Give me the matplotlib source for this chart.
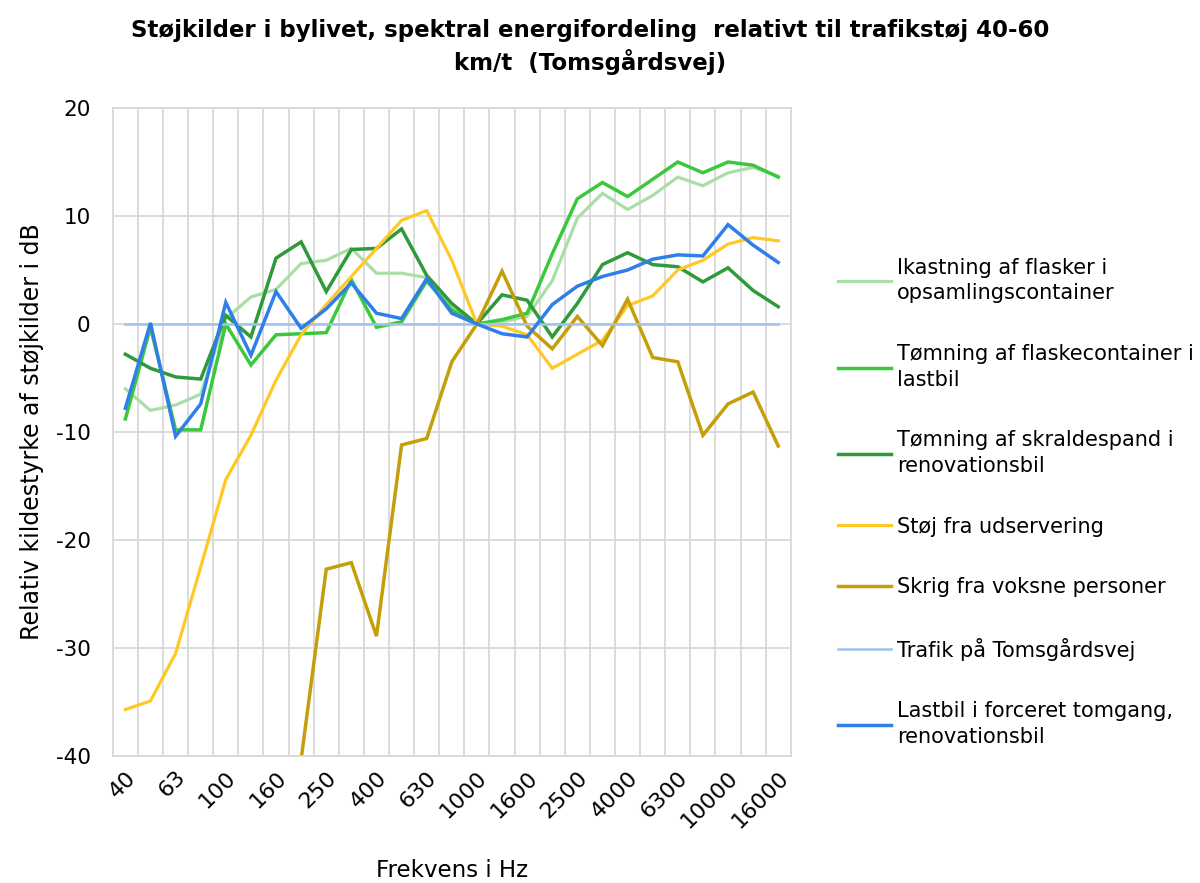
import numpy as np
import matplotlib
matplotlib.use('Agg')
import matplotlib.pyplot as plt

plt.rcParams['font.family'] = ['DejaVu Sans']
plt.rcParams['axes.unicode_minus'] = False

# 1/3-octave bands (Hz)
freqs = ['40', '50', '63', '80', '100', '125', '160', '200', '250', '315',
         '400', '500', '630', '800', '1000', '1250', '1600', '2000', '2500',
         '3150', '4000', '5000', '6300', '8000', '10000', '12500', '16000']

ikastning = [-6.0, -8.0, -7.5, -6.5, 0.5, 2.5, 3.2, 5.6, 5.9, 7.0, 4.7, 4.7, 4.3,
             1.6, 0.0, 0.2, 0.7, 4.0, 9.8, 12.1, 10.6, 11.9, 13.6, 12.8, 14.0, 14.5, 13.7]
flaskecontainer = [-8.8, -0.3, -9.8, -9.8, 0.0, -3.8, -1.0, -0.9, -0.8, 4.1, -0.3, 0.2, 4.0,
                   1.3, 0.0, 0.4, 1.0, 6.5, 11.6, 13.1, 11.8, 13.4, 15.0, 14.0, 15.0, 14.7, 13.6]
skraldespand = [-2.8, -4.1, -4.9, -5.1, 0.8, -1.2, 6.1, 7.6, 3.0, 6.9, 7.0, 8.8, 4.5,
                1.9, 0.0, 2.7, 2.2, -1.2, 1.9, 5.5, 6.6, 5.5, 5.3, 3.9, 5.2, 3.1, 1.6]
udservering = [-35.7, -34.9, -30.5, -22.5, -14.4, -10.3, -5.2, -1.0, 1.8, 4.4, 7.0, 9.6, 10.5,
               5.9, 0.0, -0.2, -1.0, -4.1, -2.8, -1.5, 1.7, 2.6, 5.0, 5.9, 7.4, 8.0, 7.7]
skrig = [np.nan, np.nan, np.nan, np.nan, np.nan, np.nan, np.nan, -40.3, -22.7, -22.1, -28.9,
         -11.2, -10.6, -3.5, 0.0, 4.9, -0.2, -2.3, 0.7, -2.0, 2.3, -3.1, -3.5, -10.3, -7.4, -6.3, -11.3]
trafik = [0.0] * 27
lastbil = [-7.8, 0.1, -10.4, -7.4, 2.0, -2.9, 3.0, -0.4, 1.4, 3.8, 1.0, 0.5, 4.2,
           1.0, 0.0, -0.9, -1.2, 1.8, 3.5, 4.4, 5.0, 6.0, 6.4, 6.3, 9.2, 7.3, 5.7]

series = [
    ('Ikastning af flasker i\nopsamlingscontainer', ikastning, '#A9DFA6', 2.3),
    ('Tømning af flaskecontainer i\nlastbil', flaskecontainer, '#3CC83C', 2.5),
    ('Tømning af skraldespand i\nrenovationsbil', skraldespand, '#2E9A3A', 2.5),
    ('Støj fra udservering', udservering, '#FFC825', 2.3),
    ('Skrig fra voksne personer', skrig, '#C59E0A', 2.5),
    ('Trafik på Tomsgårdsvej', trafik, '#9FC3EC', 1.8),
    ('Lastbil i forceret tomgang,\nrenovationsbil', lastbil, '#2F7FE8', 2.5),
]

fig = plt.figure(figsize=(12, 8.83), dpi=100)
ax = fig.add_axes([0.094, 0.1438, 0.565, 0.7339])

x = np.arange(len(freqs))
handles = []
for label, vals, color, lw in series:
    h, = ax.plot(x, vals, color=color, lw=lw, label=label, solid_joinstyle='miter')
    handles.append(h)

grid_c = '#D9D9D9'
ax.set_xlim(-0.5, len(freqs) - 0.5)
ax.set_ylim(-40, 20)
ax.set_yticks(np.arange(-40, 21, 10))
ax.set_xticks(x[::2])
ax.set_xticklabels(freqs[::2], rotation=45, ha='right', rotation_mode='anchor')
ax.set_xticks(np.arange(-0.5, len(freqs), 1.0), minor=True)
ax.grid(axis='y', color=grid_c, lw=1.3)
ax.grid(axis='x', which='minor', color=grid_c, lw=1.3)
ax.set_axisbelow(True)
for s in ax.spines.values():
    s.set_color(grid_c)
    s.set_linewidth(1.3)
ax.tick_params(axis='both', which='both', length=0)
ax.tick_params(axis='y', labelsize=15.5, pad=16)
ax.tick_params(axis='x', labelsize=16, pad=8)

ax.set_xlabel('Frekvens i Hz', fontsize=16.5, labelpad=20)
ax.set_ylabel('Relativ kildestyrke af støjkilder i dB', fontsize=17, labelpad=8)

fig.text(0.492, 0.978, 'Støjkilder i bylivet, spektral energifordeling  relativt til trafikstøj 40-60\nkm/t  (Tomsgårdsvej)',
         ha='center', va='top', fontsize=16.5, fontweight='bold', linespacing=1.3)

leg = fig.legend(handles=handles, loc='upper left', bbox_to_anchor=(0.698, 0.708),
                 frameon=False, fontsize=15, handlelength=2.55, handletextpad=0.3,
                 labelspacing=1.95, borderpad=0, borderaxespad=0)
for t in leg.get_texts():
    t.set_linespacing(1.35)

fig.savefig('out.png', dpi=100)
